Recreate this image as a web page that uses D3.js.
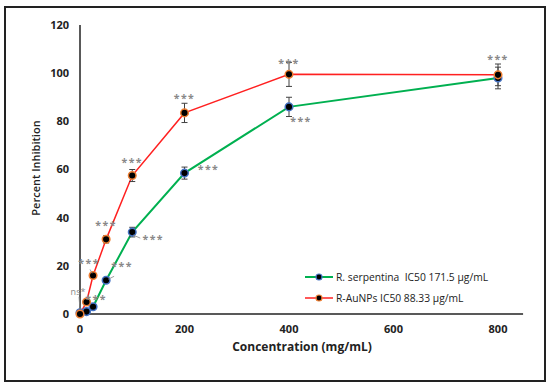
<!DOCTYPE html>
<html>
<head>
<meta charset="utf-8">
<script src="https://cdn.jsdelivr.net/npm/d3@7"></script>
<style>
  body { margin: 0; background: #fff; }
  svg { display: block; font-family: "Open Sans", "Liberation Sans", sans-serif; }
</style>
</head>
<body>
<svg width="550" height="386"></svg>
<script>
// Chart data
const concentrations = [0, 12.5, 25, 50, 100, 200, 400, 800];
const serpentina = [0.5, 1, 3, 14, 34, 58.5, 86, 98];
const serpentinaErr = [0.5, 0.5, 0.5, 0.5, 2, 2.5, 4, 4.5];
const auNPs = [0, 5, 16, 31, 57.5, 83.5, 99.5, 99.3];
const auNPsErr = [0.5, 1, 1, 1.5, 2.5, 4, 5, 4.5];
const xTicks = [0, 200, 400, 600, 800];
const yTicks = [0, 20, 40, 60, 80, 100, 120];
const seriesNames = ["R. serpentina  IC50 171.5 \u00b5g/mL", "R-AuNPs IC50 88.33 \u00b5g/mL"];
// significance labels: series (0 serpentina, 1 AuNPs), point index, text
const sigSeries = [0, 1, 0, 1, 0, 1, 0, 1, 0, 1, 0, 1];
const sigPoint = [0, 2, 2, 3, 3, 4, 4, 5, 5, 6, 6, 7];
const sigText = ["ns*", "***", "***", "***", "***", "***", "***", "***", "***", "***", "***", "***"];

const svg = d3.select("svg");

// outer frame
svg.append("rect")
    .attr("x", 5).attr("y", 7).attr("width", 540).attr("height", 374)
    .attr("fill", "none").attr("stroke", "#222").attr("stroke-width", 2);

const x = d3.scaleLinear().domain([0, 800]).range([80, 498]);
const y = d3.scaleLinear().domain([0, 120]).range([314, 25]);

// axes
svg.append("line").attr("x1", 80).attr("x2", 80).attr("y1", y(120)).attr("y2", y(0))
    .attr("stroke", "#222").attr("stroke-width", 1.5);
svg.append("line").attr("x1", 80).attr("x2", x(848)).attr("y1", y(0)).attr("y2", y(0))
    .attr("stroke", "#222").attr("stroke-width", 1.5);

svg.append("g").selectAll("text")
  .data(yTicks)
  .join("text")
    .attr("x", 69).attr("y", d => y(d)).attr("dy", "0.35em")
    .attr("text-anchor", "end")
    .attr("font-size", 11).attr("font-weight", 700).attr("fill", "#222")
    .text(d => d);

svg.append("g").selectAll("text")
  .data(xTicks)
  .join("text")
    .attr("x", d => x(d)).attr("y", 329).attr("dy", "0.35em")
    .attr("text-anchor", "middle")
    .attr("font-size", 11).attr("font-weight", 700).attr("fill", "#222")
    .text(d => d);

svg.append("text")
    .attr("x", 302).attr("y", 347).attr("dy", "0.35em")
    .attr("text-anchor", "middle")
    .attr("font-size", 12).attr("font-weight", 700).attr("fill", "#222")
    .text("Concentration (mg/mL)");

svg.append("text")
    .attr("transform", "translate(36,168) rotate(-90)")
    .attr("dy", "0.35em")
    .attr("text-anchor", "middle")
    .attr("font-size", 11).attr("font-weight", 600).attr("fill", "#222")
    .text("Percent Inhibition");

const series = [
  {values: serpentina, err: serpentinaErr, line: "#00b050", ring: "#4472c4", width: 2},
  {values: auNPs, err: auNPsErr, line: "#ff2020", ring: "#ed7d31", width: 1.5}
];

const line = d3.line().x(d => x(d[0])).y(d => y(d[1]));

series.forEach(s => {
  const pts = concentrations.map((c, i) => [c, s.values[i], s.err[i]]);
  svg.append("path")
      .datum(pts)
      .attr("d", line)
      .attr("fill", "none").attr("stroke", s.line).attr("stroke-width", s.width);

  const eb = svg.append("g").attr("stroke", "#404040").attr("stroke-width", 1);
  pts.filter(d => d[2] > 1).forEach(d => {
    const cx = x(d[0]);
    eb.append("line").attr("x1", cx).attr("x2", cx).attr("y1", y(d[1] - d[2])).attr("y2", y(d[1] + d[2]));
    eb.append("line").attr("x1", cx - 3).attr("x2", cx + 3).attr("y1", y(d[1] - d[2])).attr("y2", y(d[1] - d[2]));
    eb.append("line").attr("x1", cx - 3).attr("x2", cx + 3).attr("y1", y(d[1] + d[2])).attr("y2", y(d[1] + d[2]));
  });
});

series.forEach(s => {
  svg.append("g").selectAll("circle")
    .data(concentrations.map((c, i) => [c, s.values[i]]))
    .join("circle")
      .attr("cx", d => x(d[0])).attr("cy", d => y(d[1]))
      .attr("r", 3.8)
      .attr("fill", "#000").attr("stroke", s.ring).attr("stroke-width", 1.5);
});

// label placement relative to its point, in pixels
const sigOffset = [[-2, -21], [-4, -15], [3, -10], [0, -17], [16, -17], [0, -16],
                   [21, 5], [0, -17], [24, -6], [0, -14], [12, 12], [0, -18]];
const sigLeader = {0: [[-1, -16], [0, -4]], 1: [[-3, -6], [-1, -2]],
                   4: [[8, -4], [2, -1]], 6: [[1, 3], [8, 6]]};

const ann = svg.append("g").attr("fill", "#888").attr("text-anchor", "middle");
sigText.forEach((label, k) => {
  const s = series[sigSeries[k]];
  const pi = sigPoint[k];
  const px = x(concentrations[pi]), py = y(s.values[pi]);
  const off = sigOffset[k];
  ann.append("text")
      .attr("x", px + off[0]).attr("y", py + off[1])
      .attr("dy", label === "ns*" ? "0.35em" : "0.6em")
      .attr("font-size", label === "ns*" ? 9 : 10.5)
      .attr("letter-spacing", label === "ns*" ? 0 : 1.5)
      .attr("font-weight", label === "ns*" ? 400 : 700)
      .text(label);
  if (sigLeader[k]) {
    const [a, b] = sigLeader[k];
    svg.append("line")
        .attr("x1", px + a[0]).attr("y1", py + a[1]).attr("x2", px + b[0]).attr("y2", py + b[1])
        .attr("stroke", "#888").attr("stroke-width", 0.8);
  }
});

// legend
const legend = svg.append("g");
series.forEach((s, i) => {
  const ly = 277 + i * 21;
  legend.append("line").attr("x1", 305).attr("x2", 333).attr("y1", ly).attr("y2", ly)
      .attr("stroke", s.line).attr("stroke-width", s.width);
  legend.append("circle").attr("cx", 319).attr("cy", ly).attr("r", 3)
      .attr("fill", "#000").attr("stroke", s.ring).attr("stroke-width", 1.2);
  legend.append("text").attr("x", 336).attr("y", ly).attr("dy", "0.35em")
      .attr("font-size", 10.3).attr("fill", "#222")
      .style("white-space", "pre")
      .text(seriesNames[i]);
});
</script>
</body>
</html>
